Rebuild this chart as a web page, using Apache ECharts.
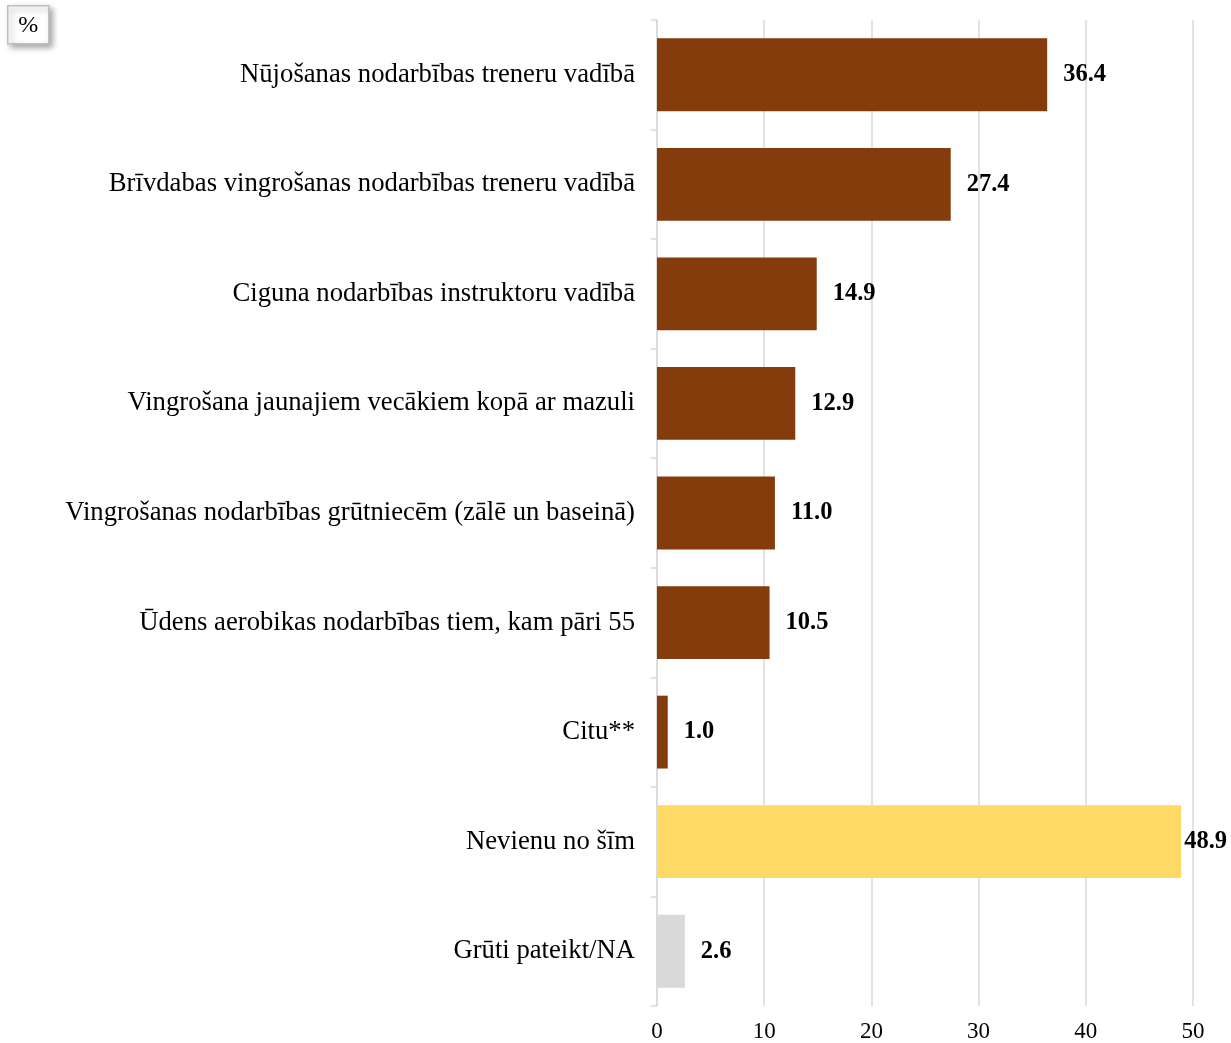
<!DOCTYPE html>
<html><head><meta charset="utf-8">
<script src="https://cdn.jsdelivr.net/npm/echarts@6/dist/echarts.min.js"></script>
<style>html,body{margin:0;padding:0;background:#fff}#c{width:1231px;height:1043px}</style>
</head><body><div id="c"></div>
<script>
const categories = [
  "Nūjošanas nodarbības treneru vadībā",
  "Brīvdabas vingrošanas nodarbības treneru vadībā",
  "Ciguna nodarbības instruktoru vadībā",
  "Vingrošana jaunajiem vecākiem kopā ar mazuli",
  "Vingrošanas nodarbības grūtniecēm (zālē un baseinā)",
  "Ūdens aerobikas nodarbības tiem, kam pāri 55",
  "Citu**",
  "Nevienu no šīm",
  "Grūti pateikt/NA"
];
const values = [36.4, 27.4, 14.9, 12.9, 11.0, 10.5, 1.0, 48.9, 2.6];
const barColors = ["#843C0C","#843C0C","#843C0C","#843C0C","#843C0C","#843C0C","#843C0C","#FFD966","#D9D9D9"];
const xTicks = [0, 10, 20, 30, 40, 50];

const font = "'Liberation Serif', 'Times New Roman', serif";
const chart = echarts.init(document.getElementById('c'), null, {renderer: 'canvas'});
chart.setOption({
  animation: false,
  grid: {left: 657, right: 38, top: 20, bottom: 35, containLabel: false},
  xAxis: {
    type: 'value', min: xTicks[0], max: xTicks[xTicks.length-1], interval: 10,
    axisLine: {show: false}, axisTick: {show: false},
    splitLine: {show: true, lineStyle: {color: '#D9D9D9', width: 1.5}},
    axisLabel: {color: '#000', fontFamily: font, fontSize: 23, margin: 14}
  },
  yAxis: {
    type: 'category', data: categories, inverse: true,
    axisLine: {show: true, lineStyle: {color: '#D9D9D9', width: 1.5}},
    axisTick: {show: true, length: 6, lineStyle: {color: '#D9D9D9', width: 1.5}},
    axisLabel: {color: '#000', fontFamily: font, fontSize: 26.7, margin: 22}
  },
  series: [{
    type: 'bar',
    data: values.map((v, i) => ({
      value: v,
      itemStyle: {color: barColors[i]},
      label: v > 45 ? {distance: 3} : undefined
    })),
    barWidth: '66.5%',
    label: {
      show: true, position: 'right', distance: 16,
      formatter: p => p.value.toFixed(1),
      color: '#000', fontFamily: font, fontSize: 24.5, fontWeight: 'bold'
    }
  }],
  graphic: [{
    type: 'group', left: 7, top: 5,
    children: [
      {type: 'rect', shape: {x: 0, y: 0, width: 41, height: 38},
       style: {fill: '#fff', stroke: '#BFBFBF', lineWidth: 1.5,
               shadowBlur: 6, shadowOffsetX: 3, shadowOffsetY: 3, shadowColor: 'rgba(0,0,0,0.35)'}},
      {type: 'text', x: 20.5, y: 20,
       style: {text: '%', font: "24px " + font, fill: '#000', align: 'center', verticalAlign: 'middle'}}
    ]
  }]
});
</script>
</body></html>
